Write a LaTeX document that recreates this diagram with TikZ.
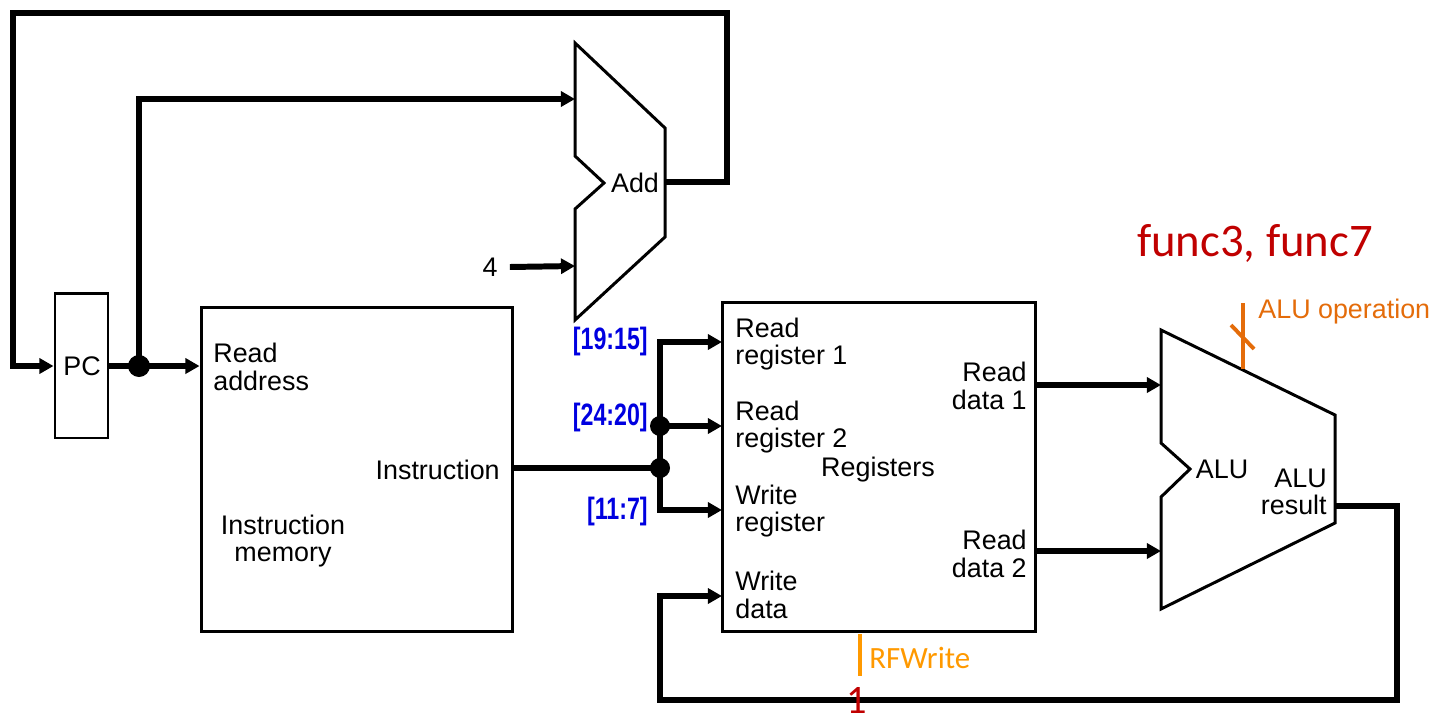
\documentclass[tikz,border=0pt]{standalone}
\usepackage{fontspec}
\setmainfont{Liberation Sans}
\newfontfamily\calib{Carlito}
\usetikzlibrary{arrows.meta}
\definecolor{busblue}{RGB}{0,0,224}
\definecolor{darkred}{RGB}{192,0,0}
\definecolor{aluorange}{RGB}{228,108,10}
\definecolor{rforange}{RGB}{255,153,0}
\newcommand\mf{\fontsize{15.3}{15.6}\selectfont}
\newcommand\busf{\fontsize{17.6}{17.6}\selectfont\bfseries}
\tikzset{
  wire/.style={line width=3.4pt, line join=miter},
  arr/.style={wire, -{Triangle[length=8pt,width=8.5pt]}},
  box/.style={draw, line width=1.7pt, inner sep=0pt},
  shapeline/.style={line width=1.7pt, line join=miter},
  lbl/.style={font=\mf, inner sep=0pt},
  buslbl/.style={font=\busf, text=busblue, inner sep=0pt},
  jdot/.style={circle, fill=black, inner sep=0pt, minimum size=0.42cm},
}
\begin{document}
\begin{tikzpicture}[x=0.02cm, y=-0.02cm]
\useasboundingbox (0,0) rectangle (1442,717);

% boxes
\node[box, minimum width=1.06cm, minimum height=2.9cm] (pc) at (81.5,365.5) {};
\node[lbl] (pctext) at (82,366) {PC};
\node[box, minimum width=6.24cm, minimum height=6.5cm] (im) at (357,469.5) {};
\node[box, minimum width=6.28cm, minimum height=6.6cm] (rf) at (879,467) {};

% adder shape
\draw[shapeline] (575,43) -- (665,128) -- (665,237) -- (575,320) -- (575,209) -- (604,183) -- (575,156) -- cycle;
\coordinate (addin1) at (575,99);
\coordinate (addin2) at (575,266);
\coordinate (addout) at (665,182);
\node[lbl] (addtext) at (635,183) {Add};

% ALU shape
\draw[shapeline] (1161,330) -- (1335,415) -- (1335,523) -- (1161,609) -- (1161,497) -- (1190,469) -- (1161,443) -- cycle;
\coordinate (aluin1) at (1161,385);
\coordinate (aluin2) at (1161,551);
\coordinate (aluout) at (1335,506);
\node[lbl] (alutext) at (1222,469) {ALU};
\node[lbl, align=right, anchor=east] (alures) at (1327,492) {ALU\\result};

% texts in instruction memory
\node[lbl, align=left, anchor=west] (ra) at (213,367) {Read\\address};
\node[lbl, anchor=east] (instr) at (500,470) {Instruction};
\node[lbl, align=center] (imem) at (283,541) {Instruction\\memory};

% texts in register file
\node[lbl, align=left, anchor=west] (rr1t) at (735,344) {Read\\register 1};
\node[lbl, align=left, anchor=west] (rr2t) at (735,427) {Read\\register 2};
\node[lbl, align=left, anchor=west] (wrt) at (735,511) {Write\\register};
\node[lbl, align=left, anchor=west] (wdt) at (735,595) {Write\\data};
\node[lbl] (regt) at (878,470) {Registers};
\node[lbl, align=right, anchor=east] (rd1t) at (1027,386) {Read\\data 1};
\node[lbl, align=right, anchor=east] (rd2t) at (1027,554) {Read\\data 2};

% junctions
\node[jdot, minimum size=0.44cm] (jpc) at (139,366) {};
\node[jdot, minimum size=0.40cm] (jin) at (660,468) {};
\node[jdot, minimum size=0.40cm] (j24) at (660,426) {};
\coordinate (rr1) at (722,342);
\coordinate (rr2) at (722,426);
\coordinate (wr) at (722,510);
\coordinate (wd) at (722,596);
\coordinate (rd1) at (1036,385);
\coordinate (rd2) at (1036,551);

% wires
\draw[arr] (addout) -- (727,182) -- (727,13) -- (13,13) -- (13,366) -- (pc.west |- jpc);
\draw[wire] (pc.east |- jpc) -- (jpc.center);
\draw[arr] (jpc.center) -- (im.west |- jpc);
\draw[arr] (jpc.center) |- (addin1);
\node[lbl] (four) at (490,267) {4};
\draw[arr] (four.east) ++(12,0) -- (addin2);
\draw[wire] (im.east |- jin) -- (jin.center);
\draw[arr] (jin.center) |- (rr1);
\draw[arr] (j24.center) -- (rr2);
\draw[arr] (jin.center) |- (wr);
\draw[arr] (rd1) -- (aluin1);
\draw[arr] (rd2) -- (aluin2);
\draw[arr] (aluout) -- (1397,506) -- (1397,700) -- (660,700) |- (wd);

% bus labels
\node[buslbl, anchor=east] (b1) at (648,341) {\scalebox{0.75}[1]{[19:15]}};
\node[buslbl, anchor=east] (b2) at (648,417) {\scalebox{0.75}[1]{[24:20]}};
\node[buslbl, anchor=east] (b3) at (648,511) {\scalebox{0.75}[1]{[11:7]}};

% control signals
\coordinate (aluop) at (1243,369);
\draw[aluorange, line width=2.4pt] (1243,303) -- (aluop);
\draw[aluorange, line width=2.2pt] (1231,325) -- (1254,349);
\node[lbl, text=aluorange, anchor=west] (aluopt) at (1258,312) {ALU operation};

\coordinate (rfw) at (860,634);
\draw[rforange, line width=1.8pt] (rfw) -- (860,676);
\node[inner sep=0pt, anchor=west, text=rforange, font=\calib\fontsize{17.6}{17.6}\selectfont] (rfwt) at (869,658) {RFWrite};

\node[inner sep=0pt, text=darkred, font=\calib\fontsize{26.6}{26.6}\selectfont] (func) at (1255,243) {func3, func7};
\node[inner sep=0pt, anchor=base, text=darkred, font=\calib\fontsize{23}{23}\selectfont] (one) at (857,713) {1};
\end{tikzpicture}
\end{document}
